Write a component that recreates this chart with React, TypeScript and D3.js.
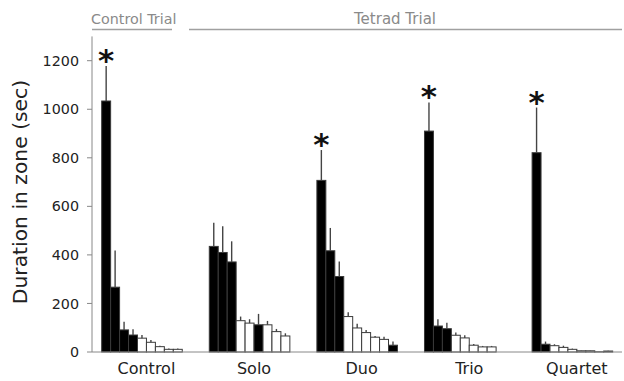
import React from "react";
import * as d3 from "d3";

const groups = ["Control", "Solo", "Duo", "Trio", "Quartet"];
const slots = ["1", "2", "3", "4", "5", "6", "7", "8", "9", "10"];

const meansControl = [1034, 267, 91, 70, 57, 40, 22, 11, 11];
const meansSolo = [435, 410, 371, 129, 119, 112, 112, 84, 66];
const meansDuo = [707, 417, 311, 146, 99, 80, 61, 52, 28];
const meansTrio = [910, 107, 96, 69, 58, 28, 21, 21, 0];
const meansQuartet = [821, 32, 26, 19, 11, 5, 5, 1, 4];

const semControl = [144, 151, 34, 24, 13, 9, 4, 3, 3];
const semSolo = [97, 108, 85, 17, 16, 45, 16, 11, 11];
const semDuo = [125, 94, 62, 18, 17, 11, 5, 11, 15];
const semTrio = [118, 28, 25, 11, 11, 5, 4, 4, 0];
const semQuartet = [186, 11, 6, 7, 3, 1, 1, 0, 1];

const darkControl = [1, 1, 1, 1, 0, 0, 0, 0, 0];
const darkSolo = [1, 1, 1, 0, 0, 1, 0, 0, 0];
const darkDuo = [1, 1, 1, 0, 0, 0, 0, 0, 1];
const darkTrio = [1, 1, 1, 0, 0, 0, 0, 0, 0];
const darkQuartet = [1, 1, 0, 0, 0, 0, 0, 0, 0];

const starControl = [1, 0, 0, 0, 0, 0, 0, 0, 0];
const starSolo = [0, 0, 0, 0, 0, 0, 0, 0, 0];
const starDuo = [1, 0, 0, 0, 0, 0, 0, 0, 0];
const starTrio = [1, 0, 0, 0, 0, 0, 0, 0, 0];
const starQuartet = [1, 0, 0, 0, 0, 0, 0, 0, 0];

const yTicks = [0, 200, 400, 600, 800, 1000, 1200];
const trialLabels = ["Control Trial", "Tetrad Trial"];
const yTitle = "Duration in zone (sec)";

const means = [meansControl, meansSolo, meansDuo, meansTrio, meansQuartet];
const sems = [semControl, semSolo, semDuo, semTrio, semQuartet];
const darks = [darkControl, darkSolo, darkDuo, darkTrio, darkQuartet];
const stars = [starControl, starSolo, starDuo, starTrio, starQuartet];

const W = 624;
const H = 381;
const axisX = 92;
const baseY = 352;

export default function App() {
  const y = d3.scaleLinear().domain([0, 1300]).range([baseY, baseY - 1300 * 0.24275]);
  const x = d3
    .scaleBand<string>()
    .domain(groups)
    .range([axisX, 631.3])
    .paddingInner(0.168)
    .paddingOuter(0.09);
  const xi = d3.scaleBand<string>().domain(slots).range([0, x.bandwidth()]);
  const bw = xi.bandwidth();
  const font = "'DejaVu Sans', sans-serif";

  return (
    <svg
      width={W}
      height={H}
      style={{ position: "absolute", left: 0, top: 0, background: "#fff" }}
      fontFamily={font}
    >
      <rect width={W} height={H} fill="#fff" />
      {/* trial header */}
      <text x={91} y={23.5} fontSize={14.3} fill="#8a8a8a">{trialLabels[0]}</text>
      <line x1={92} x2={172} y1={29.5} y2={29.5} stroke="#a0a0a0" strokeWidth={1.6} />
      <text x={354} y={23.5} fontSize={15} fill="#8a8a8a">{trialLabels[1]}</text>
      <line x1={189} x2={622} y1={29.5} y2={29.5} stroke="#a0a0a0" strokeWidth={1.6} />

      {/* y axis */}
      <line x1={axisX} x2={axisX} y1={y(1300)} y2={baseY} stroke="#888" strokeWidth={1} />
      {yTicks.map((t) => (
        <g key={t}>
          <line x1={axisX - 5} x2={axisX} y1={y(t)} y2={y(t)} stroke="#888" strokeWidth={1} />
          <text
            x={axisX - 13}
            y={y(t)}
            dy="0.36em"
            textAnchor="end"
            fontSize={14.3}
            fill="#222"
          >
            {t}
          </text>
        </g>
      ))}
      <text
        transform={`translate(27,${192}) rotate(-90)`}
        textAnchor="middle"
        fontSize={20.3}
        fill="#222"
      >
        {yTitle}
      </text>

      {/* bars */}
      {groups.map((g, gi) => (
        <g key={g} transform={`translate(${x(g)},0)`}>
          {means[gi].map((v, i) => {
            const bx = xi(slots[i]) as number;
            const top = y(v);
            const errTop = y(v + sems[gi][i]);
            const cx = bx + bw / 2;
            return (
              <g key={i}>
                {v > 0 && (
                  <rect
                    x={bx}
                    y={top}
                    width={bw}
                    height={baseY - top}
                    fill={darks[gi][i] ? "#000" : "#fff"}
                    stroke="#3a3a3a"
                    strokeWidth={1}
                  />
                )}
                {sems[gi][i] > 0 && (
                  <line x1={cx} x2={cx} y1={top} y2={errTop} stroke="#444" strokeWidth={1.4} />
                )}
                {stars[gi][i] === 1 && (
                  <text
                    x={cx}
                    y={errTop + 5}
                    textAnchor="middle"
                    fontSize={31}
                    fontWeight="bold"
                    fill="#111"
                  >
                    *
                  </text>
                )}
              </g>
            );
          })}
          <text
            x={x.bandwidth() / 2}
            y={374}
            textAnchor="middle"
            fontSize={16}
            fill="#222"
          >
            {g}
          </text>
        </g>
      ))}

      {/* x axis */}
      <line x1={axisX} x2={622} y1={baseY} y2={baseY} stroke="#888" strokeWidth={1} />
    </svg>
  );
}
